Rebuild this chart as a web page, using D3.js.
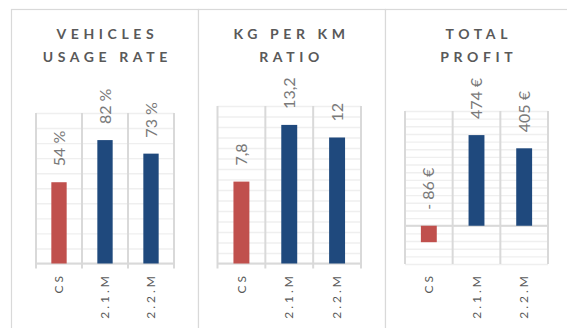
<!DOCTYPE html>
<html>
<head>
<meta charset="utf-8">
<script src="https://cdn.jsdelivr.net/npm/d3@7"></script>
<style>
  html, body { margin: 0; padding: 0; background: #fff; }
  svg { display: block; }
</style>
</head>
<body>
<svg id="chart" width="567" height="328"></svg>
<script>
// Fleet comparison: three small bar panels sharing the same categories
const categories = ["CS", "2.1.M", "2.2.M"];
const usageRate = [54, 82, 73];          // %
const kgPerKm = [7.8, 13.2, 12];         // kg per km
const totalProfit = [-86, 474, 405];     // €
const usageTicks = d3.range(0, 101, 10);
const kgTicks = d3.range(0, 16, 1);
const profitTicks = d3.range(-200, 601, 40);
const panelTitles = [["VEHICLES", "USAGE RATE"], ["KG PER KM", "RATIO"], ["TOTAL", "PROFIT"]];
const barColors = ["#C0504D", "#1F497D", "#1F497D"];

const fmtUsage = v => `${v} %`;
const fmtKg = v => String(v).replace(".", ",");
const fmtProfit = v => v < 0 ? `- ${Math.abs(v)} €` : `${v} €`;

const panels = [
  { values: usageRate, ticks: usageTicks, domain: [0, 100], fmt: fmtUsage, title: panelTitles[0],
    frame: [11, 198], plot: { left: 36, right: 174, top: 113, bottom: 263.5 }, ticksBelow: true },
  { values: kgPerKm, ticks: kgTicks, domain: [0, 15], fmt: fmtKg, title: panelTitles[1],
    frame: [198, 385], plot: { left: 217.5, right: 361, top: 106, bottom: 263.5 }, ticksBelow: true },
  { values: totalProfit, ticks: profitTicks, domain: [-200, 600], fmt: fmtProfit, title: panelTitles[2],
    frame: [385, 580], plot: { left: 405, right: 548, top: 111, bottom: 264 }, ticksBelow: false }
];

const svg = d3.select("#chart");
const FONT = "Lato, 'Open Sans', sans-serif";

panels.forEach(p => {
  const g = svg.append("g");
  const { left, right, top, bottom } = p.plot;

  // panel frame
  g.append("rect")
    .attr("x", p.frame[0] + 0.5).attr("y", 9.5)
    .attr("width", p.frame[1] - p.frame[0]).attr("height", 340)
    .attr("fill", "#fff").attr("stroke", "#d9d9d9").attr("stroke-width", 1.2);

  const x = d3.scaleBand().domain(categories).range([left, right]).paddingInner(0).paddingOuter(0);
  const y = d3.scaleLinear().domain(p.domain).range([bottom, top]);

  // horizontal gridlines
  const grid = g.append("g")
    .attr("transform", `translate(${left},0)`)
    .call(d3.axisLeft(y).tickValues(p.ticks).tickSize(-(right - left)).tickFormat(""));
  grid.select(".domain").remove();
  grid.selectAll(".tick line").attr("stroke", "#efefef").attr("stroke-width", 1.4);

  // vertical category separators (with ticks below the axis)
  const bounds = categories.map(c => x(c)).concat([right]);
  g.selectAll(".sep").data(bounds).join("line")
    .attr("x1", d => d).attr("x2", d => d)
    .attr("y1", top).attr("y2", bottom + (p.ticksBelow ? 5 : 0))
    .attr("stroke", "#d9d9d9").attr("stroke-width", 2);

  // category axis line at zero
  g.append("line")
    .attr("x1", left).attr("x2", right)
    .attr("y1", y(0)).attr("y2", y(0))
    .attr("stroke", "#d9d9d9").attr("stroke-width", 2);

  const bw = x.bandwidth();
  const data = categories.map((c, i) => ({ c, v: p.values[i], color: barColors[i] }));

  // bars
  g.selectAll(".bar").data(data).join("rect")
    .attr("x", d => x(d.c) + bw / 3)
    .attr("width", bw / 3)
    .attr("y", d => y(Math.max(0, d.v)))
    .attr("height", d => Math.abs(y(d.v) - y(0)))
    .attr("fill", d => d.color);

  // value labels, rotated
  g.selectAll(".val").data(data).join("text")
    .attr("transform", d => `translate(${x(d.c) + bw / 2},${y(Math.max(0, d.v)) - 16}) rotate(-90)`)
    .attr("dy", "0.35em")
    .attr("text-anchor", "start")
    .attr("font-family", FONT).attr("font-size", 16)
    .attr("fill", "#7a7a7a")
    .text(d => p.fmt(d.v));

  // category labels, rotated
  g.selectAll(".cat").data(categories).join("text")
    .attr("transform", d => `translate(${x(d) + bw / 2},273) rotate(-90)`)
    .attr("dy", "0.35em")
    .attr("text-anchor", "end")
    .attr("font-family", FONT).attr("font-size", 12)
    .attr("letter-spacing", 3)
    .attr("fill", "#595959")
    .text(d => d);

  // panel title
  const cx = (left + right) / 2;
  g.selectAll(".title").data(p.title).join("text")
    .attr("x", cx + 2.3)
    .attr("y", (d, i) => 39 + i * 23)
    .attr("text-anchor", "middle")
    .attr("font-family", FONT).attr("font-size", 14).attr("font-weight", "bold")
    .attr("letter-spacing", 4.6)
    .attr("fill", "#595959")
    .text(d => d);
});
</script>
</body>
</html>
